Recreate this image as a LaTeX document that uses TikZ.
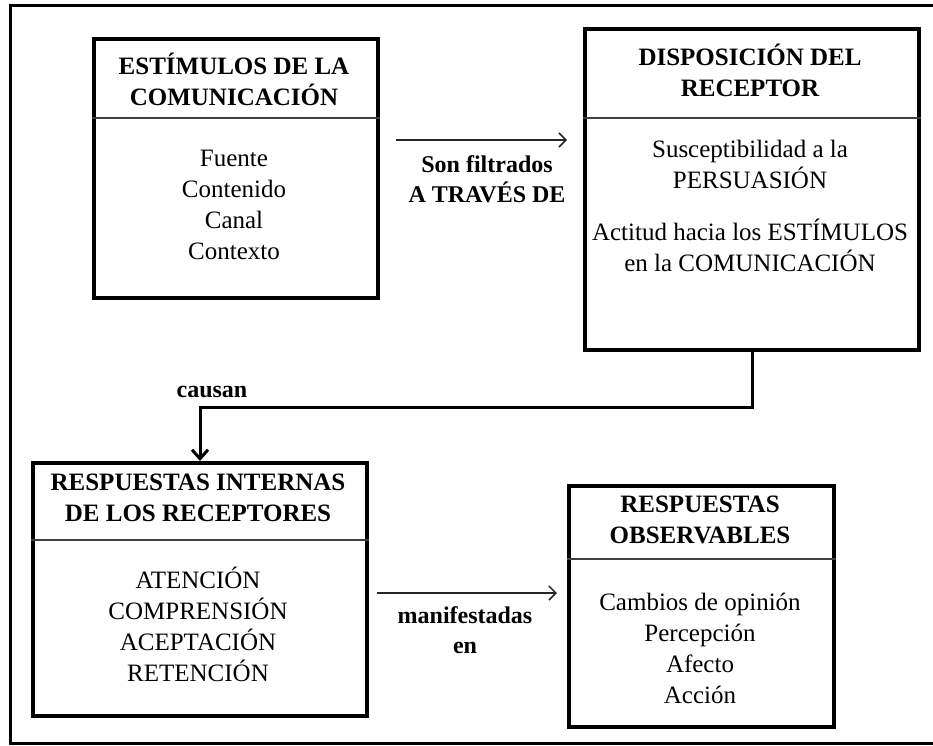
\documentclass[tikz,border=0pt]{standalone}
\usepackage{fontspec}
\setmainfont{Liberation Serif}
\usetikzlibrary{arrows.meta}
\tikzset{
  box/.style={draw, line width=4pt, inner sep=0pt, anchor=north west},
  divider/.style={draw=black!75, line width=2pt},
  heading/.style={font=\fontsize{25}{31}\selectfont\bfseries, align=center},
  items/.style={font=\fontsize{25}{31}\selectfont, align=center},
  label/.style={font=\fontsize{24}{30}\selectfont\bfseries, align=center},
  flow/.style={-{Straight Barb[length=7pt,width=14pt]}, draw=black!85, line width=1.5pt},
  causes/.style={-{Straight Barb[length=9pt,width=16pt]}, line width=3pt},
  frame/.style={line width=3pt}
}
\begin{document}
\begin{tikzpicture}[x=1pt,y=-1pt]
\useasboundingbox (0,0) rectangle (933,745);
% outer frame, open on the right
\draw [frame] (933,5) -- (10,5) -- (10,743) -- (933,743);
% boxes
\node [box, minimum width=284pt, minimum height=259pt] (stimuli) at (92,37) {};
\node [box, minimum width=334pt, minimum height=321pt] (disposition) at (583,27) {};
\node [box, minimum width=334pt, minimum height=253pt] (internal) at (31,461) {};
\node [box, minimum width=265pt, minimum height=241pt] (observable) at (567,484) {};
\draw [divider] (stimuli.west |- 0,118) -- (stimuli.east |- 0,118);
\draw [divider] (disposition.west |- 0,118) -- (disposition.east |- 0,118);
\draw [divider] (internal.west |- 0,540) -- (internal.east |- 0,540);
\draw [divider] (observable.west |- 0,559) -- (observable.east |- 0,559);
% box texts
\node [heading] (stimuli-title) at (234,79) {ESTÍMULOS DE LA\\COMUNICACIÓN};
\node [items] (stimuli-items) at (234,205) {Fuente\\Contenido\\Canal\\Contexto};
\node [heading] (disposition-title) at (750,70) {DISPOSICIÓN DEL\\RECEPTOR};
\node [items] (disposition-a) at (750,164) {Susceptibilidad a la\\PERSUASIÓN};
\node [items] (disposition-b) at (750,245) {Actitud hacia los ESTÍMULOS\\en la COMUNICACIÓN};
\node [heading] (internal-title) at (198,498) {RESPUESTAS INTERNAS\\DE LOS RECEPTORES};
\node [items] (internal-items) at (198,624) {ATENCIÓN\\COMPRENSIÓN\\ACEPTACIÓN\\RETENCIÓN};
\node [heading] (observable-title) at (700,520) {RESPUESTAS\\OBSERVABLES};
\node [items] (observable-items) at (700,648) {Cambios de opinión\\Percepción\\Afecto\\Acción};
% connectors
\coordinate (filter-start) at (396,140);
\coordinate (filter-end) at (567,140);
\draw [flow] (filter-start) -- (filter-end);
\node [label] (filter-label) at (487,179) {Son filtrados\\A TRAVÉS DE};
\draw [causes] (disposition.south) -- ++(0,55) -| (internal.north);
\node [label] (causes-label) at (212,392) {causan};
\coordinate (show-start) at (377,593);
\coordinate (show-end) at (557,593);
\draw [flow] (show-start) -- (show-end);
\node [label] (show-label) at (465,630) {manifestadas\\en};
\end{tikzpicture}
\end{document}
